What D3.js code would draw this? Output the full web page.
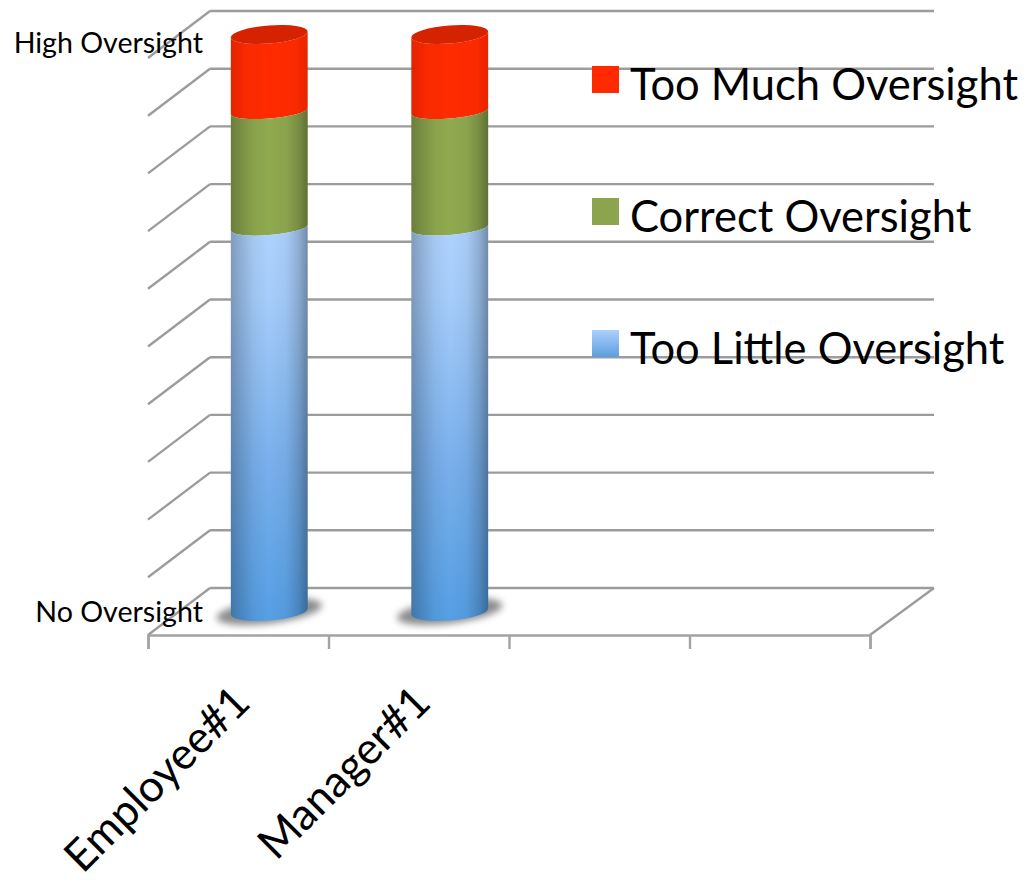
<!DOCTYPE html>
<html>
<head>
<meta charset="utf-8">
<script src="https://cdn.jsdelivr.net/npm/d3@7"></script>
<style>
  html, body { margin: 0; padding: 0; background: #fff; }
  svg { display: block; }
  text { font-family: Lato, "Noto Sans", sans-serif; fill: #000; }
</style>
</head>
<body>
<svg id="chart" width="1025" height="880"></svg>
<script>
// Stacked share of oversight per person, in percent of the axis
const categories = ["Employee#1", "Manager#1", "", ""];
const seriesNames = ["Too Little Oversight", "Correct Oversight", "Too Much Oversight"];
const tooLittle = [66.5, 66.5];
const correct = [20.2, 20.2];
const tooMuch = [13.3, 13.3];
const axisValues = [0, 10, 20, 30, 40, 50, 60, 70, 80, 90, 100];
const axisLabels = [[0, "No Oversight"], [100, "High Oversight"]];

const svg = d3.select("#chart");
const defs = svg.append("defs");

// Front edge of the floor and the depth offset of the box
const x = d3.scaleBand().domain(d3.range(categories.length)).range([148, 870]);
const tickX = d3.scaleLinear().domain([0, 4]).range([148, 870]);
const y = d3.scaleLinear().domain([0, 100]).range([635, 58]);
const depth = { dx: 62, dy: -47 };

// Soft edges and shadows
defs.append("filter").attr("id", "lineSoft").attr("filterUnits", "userSpaceOnUse")
  .attr("x", 0).attr("y", 0).attr("width", 1025).attr("height", 880)
  .append("feGaussianBlur").attr("stdDeviation", 0.4);
defs.append("filter").attr("id", "floorShadow").attr("x", "-30%").attr("y", "-50%").attr("width", "160%").attr("height", "200%")
  .append("feGaussianBlur").attr("stdDeviation", 3.5);
defs.append("filter").attr("id", "barSoft").attr("x", "-5%").attr("y", "-5%").attr("width", "110%").attr("height", "110%")
  .append("feGaussianBlur").attr("stdDeviation", 0.5);

function linear(id, vertical, stops) {
  const g = defs.append("linearGradient").attr("id", id)
    .attr("x1", 0).attr("y1", 0).attr("x2", vertical ? 0 : 1).attr("y2", vertical ? 1 : 0);
  stops.forEach(([o, c, a]) => g.append("stop").attr("offset", o).attr("stop-color", c).attr("stop-opacity", a === undefined ? 1 : a));
}
// Horizontal shading that turns the flat bands into a cylinder
linear("shade", false, [[0, "#000", 0.26], [0.12, "#000", 0.17], [0.30, "#000", 0.05], [0.5, "#000", 0], [0.72, "#000", 0.04], [0.88, "#000", 0.17], [1, "#000", 0.34]]);
linear("shadeRed", false, [[0, "#000", 0.12], [0.2, "#000", 0.02], [0.5, "#000", 0], [0.85, "#000", 0.02], [1, "#000", 0.10]]);
linear("blueBody", true, [[0, "#afd3ff"], [0.18, "#a6cdfb"], [0.6, "#79b0ec"], [1, "#559fe4"]]);
linear("blueKey", true, [[0, "#abd0ff"], [1, "#5c9ede"]]);

// Back wall, side wall and floor lines
const grid = svg.append("g").attr("fill", "none").attr("stroke", "#9c9c9c").attr("stroke-width", 2.4).attr("filter", "url(#lineSoft)");
grid.selectAll("line.back").data(axisValues).join("line").attr("class", "back")
  .attr("x1", 148 + depth.dx).attr("x2", 870 + depth.dx + 2)
  .attr("y1", d => y(d) + depth.dy).attr("y2", d => y(d) + depth.dy);
grid.selectAll("line.side").data(axisValues).join("line").attr("class", "side")
  .attr("x1", 148).attr("x2", 148 + depth.dx)
  .attr("y1", d => y(d)).attr("y2", d => y(d) + depth.dy);
grid.append("line").attr("x1", 870).attr("x2", 870 + depth.dx + 2).attr("y1", y(0)).attr("y2", y(0) + depth.dy);

// Category axis along the front of the floor
const axisG = svg.append("g").attr("transform", `translate(0,${y(0)})`)
  .call(d3.axisBottom(tickX).tickValues(d3.range(5)).tickSize(14).tickFormat(""));
axisG.selectAll("path, line").attr("stroke", "#a3a3a3").attr("stroke-width", 2.4);

// Rotated category names
svg.append("g").selectAll("text").data(categories.filter(c => c)).join("text")
  .attr("transform", (d, i) => `translate(${x(i) + x.bandwidth() / 2 + 14},${705}) rotate(-45)`)
  .attr("text-anchor", "end")
  .attr("font-size", 44)
  .text(d => d);

// Value axis end labels
svg.append("g").selectAll("text").data(axisLabels).join("text")
  .attr("x", 203)
  .attr("y", d => d[0] === 0 ? 622 : 53)
  .attr("text-anchor", "end")
  .attr("font-size", 28.6)
  .text(d => d[1]);

// Cylinder geometry: bars stand half way into the box
const rx = 38.4, ryEnd = 9, rySeam = 7.2, tilt = -4.6, lean = 3;
const barY = v => y(v) + depth.dy / 2;
const barLeft = i => x(i) + x.bandwidth() / 2 + depth.dx / 2 - rx;
const barRight = i => barLeft(i) + rx * 2;
const arc = (ry, sweep, tx, ty) => `A${rx},${ry} ${tilt} 0 ${sweep} ${tx},${ty}`;

function bandPath(i, v0, v1, ryTop, ryBottom) {
  const l = barLeft(i), r = barRight(i), y0 = barY(v0), y1 = barY(v1);
  return `M${l},${y1 + lean}` + arc(ryTop, 0, r, y1 - lean) + `L${r},${y0 - lean}` + arc(ryBottom, 1, l, y0 + lean) + "Z";
}
function capPath(i, v) {
  const l = barLeft(i), r = barRight(i), yc = barY(v);
  return `M${l},${yc + lean}` + arc(ryEnd, 1, r, yc - lean) + arc(ryEnd, 1, l, yc + lean) + "Z";
}

const stack = categories.slice(0, 2).map((c, i) => {
  const a = tooLittle[i], b = a + correct[i], t = b + tooMuch[i];
  return { i, bands: [
    { v0: 0, v1: a, ryTop: rySeam, ryBottom: ryEnd, fill: "url(#blueBody)", shade: "url(#shade)" },
    { v0: a, v1: b, ryTop: rySeam, ryBottom: rySeam, fill: "#90aa50", shade: "url(#shade)" },
    { v0: b, v1: t, ryTop: ryEnd, ryBottom: rySeam, fill: "#ff2a00", shade: "url(#shadeRed)" }
  ], top: t };
});

// Floor shadows under each cylinder
svg.append("g").selectAll("ellipse").data(stack).join("ellipse")
  .attr("cx", 0).attr("cy", 0)
  .attr("transform", d => `translate(${barLeft(d.i) + rx},${barY(0)}) rotate(-7)`)
  .attr("rx", 53).attr("ry", 12)
  .attr("fill", "#8c8c8c").attr("filter", "url(#floorShadow)");

// Bands are painted top down so each lower band's rim sits over the next
const bars = svg.append("g").attr("filter", "url(#barSoft)").selectAll("g").data(stack).join("g");
bars.each(function (d) {
  const g = d3.select(this);
  d.bands.slice().reverse().forEach(b => {
    const p = bandPath(d.i, b.v0, b.v1, b.ryTop, b.ryBottom);
    g.append("path").attr("d", p).attr("fill", b.fill);
    g.append("path").attr("d", p).attr("fill", b.shade);
  });
  g.append("path").attr("d", capPath(d.i, d.top)).attr("fill", "#d52200");
});

// Legend, top entry first
const legend = svg.append("g");
const legendEntries = [
  { name: seriesNames[2], fill: "#ff2a00", y: 66 },
  { name: seriesNames[1], fill: "#8ca44e", y: 198 },
  { name: seriesNames[0], fill: "url(#blueKey)", y: 330 }
];
legend.selectAll("rect").data(legendEntries).join("rect")
  .attr("x", 592).attr("y", d => d.y).attr("width", 27).attr("height", 27).attr("fill", d => d.fill);
legend.selectAll("text").data(legendEntries).join("text")
  .attr("x", 630).attr("y", d => d.y + 34)
  .attr("font-size", 43.5)
  .text(d => d.name);
</script>
</body>
</html>
